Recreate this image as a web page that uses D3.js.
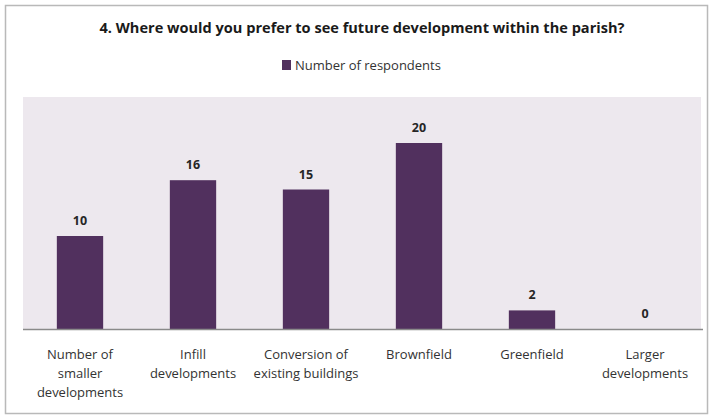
<!DOCTYPE html>
<html>
<head>
<meta charset="utf-8">
<script src="https://cdn.jsdelivr.net/npm/d3@7"></script>
<style>
  html, body { margin: 0; padding: 0; background: #ffffff; }
  svg { display: block; }
</style>
</head>
<body>
<svg id="chart" width="712" height="418"></svg>
<script>
// Survey question 4: preferred location of future development
const categories = [
  ["Number of", "smaller", "developments"],
  ["Infill", "developments"],
  ["Conversion of", "existing buildings"],
  ["Brownfield"],
  ["Greenfield"],
  ["Larger", "developments"]
];
const respondents = [10, 16, 15, 20, 2, 0];
const seriesName = "Number of respondents";
const titleText = "4. Where would you prefer to see future development within the parish?";

const W = 712, H = 418;
const plot = { left: 23, right: 701, top: 97, bottom: 329 };
const barColor = "#51305e";
const font = "'Open Sans', Lato, sans-serif";

const svg = d3.select("#chart");

// outer frame
svg.append("rect")
  .attr("x", 5.5).attr("y", 5.5)
  .attr("width", 702).attr("height", 408)
  .attr("fill", "#ffffff")
  .attr("stroke", "#b9b9b9").attr("stroke-width", 1.5);

// plot background
svg.append("rect")
  .attr("x", plot.left).attr("y", plot.top)
  .attr("width", plot.right - plot.left).attr("height", plot.bottom - plot.top)
  .attr("fill", "#ede8ee");

const keys = categories.map(c => c.join(" "));
const x = d3.scaleBand()
  .domain(keys)
  .range([23.5, 701.5])
  .paddingInner(0.59)
  .paddingOuter(0.295);

const y = d3.scaleLinear()
  .domain([0, 20])
  .range([plot.bottom, 143]);

// bars
svg.append("g").selectAll("rect")
  .data(respondents)
  .join("rect")
  .attr("x", (d, i) => x(keys[i]))
  .attr("y", d => y(d))
  .attr("width", x.bandwidth())
  .attr("height", d => y(0) - y(d))
  .attr("fill", barColor);

// value labels
svg.append("g").selectAll("text")
  .data(respondents)
  .join("text")
  .attr("x", (d, i) => x(keys[i]) + x.bandwidth() / 2)
  .attr("y", d => y(d) - 11)
  .attr("text-anchor", "middle")
  .attr("font-family", font)
  .attr("font-weight", "bold")
  .attr("font-size", 12.5)
  .attr("fill", "#262626")
  .text(d => d);

// category axis
const xAxis = svg.append("g")
  .attr("transform", `translate(0,${plot.bottom})`)
  .call(d3.axisBottom(x).tickSize(0).tickFormat(""));
xAxis.select(".domain")
  .attr("d", `M${plot.left},0.5H${plot.right + 2}`)
  .attr("stroke", "#8a8a8a").attr("stroke-width", 1.5);

xAxis.selectAll(".tick").each(function(k, i) {
  const t = d3.select(this).append("text")
    .attr("fill", "#333333")
    .attr("font-family", font)
    .attr("font-size", 13)
    .attr("text-anchor", "middle");
  categories[i].forEach((line, j) => {
    t.append("tspan").attr("x", 0).attr("y", 30 + j * 19).text(line);
  });
});

// title
svg.append("text")
  .attr("x", 362).attr("y", 33)
  .attr("text-anchor", "middle")
  .attr("font-family", font)
  .attr("font-weight", "bold")
  .attr("font-size", 14)
  .attr("fill", "#1a1a1a")
  .attr("textLength", 525)
  .attr("lengthAdjust", "spacingAndGlyphs")
  .text(titleText);

// legend
const legend = svg.append("g").attr("transform", "translate(282,60)");
legend.append("rect")
  .attr("width", 9).attr("height", 10)
  .attr("fill", barColor);
legend.append("text")
  .attr("x", 13).attr("y", 10)
  .attr("font-family", font)
  .attr("font-size", 13)
  .attr("fill", "#333333")
  .text(seriesName);
</script>
</body>
</html>
